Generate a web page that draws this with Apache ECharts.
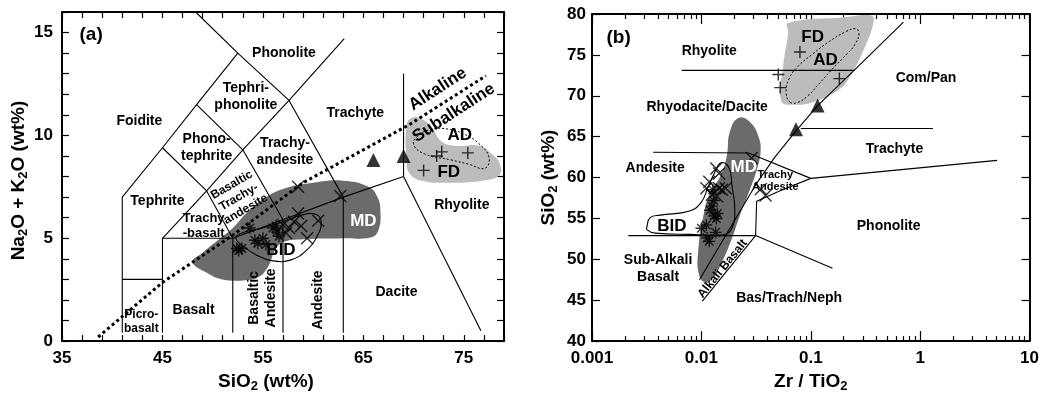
<!DOCTYPE html>
<html><head><meta charset="utf-8">
<script src="https://cdn.jsdelivr.net/npm/echarts@6/dist/echarts.min.js"></script>
<style>html,body{margin:0;padding:0;background:#fff}#c{width:1042px;height:398px}</style>
</head><body><div id="c"></div>
<script>
// ================= Panel (a): TAS diagram =================
const tasBoundaries = [
  [[41,0.4],[41,7],[45,9.4],[48.4,11.5],[52.5,14],[48.3,16]],
  [[41,3],[45,3]],
  [[45,0.4],[45,5],[49.4,7.3],[53,9.3],[57.6,11.7],[63.1,14.7]],
  [[45,9.4],[49.4,7.3],[52,5]],
  [[48.4,11.5],[53,9.3],[57,5.9]],
  [[52.5,14],[57.6,11.7],[63,7]],
  [[45,5],[52,5],[57,5.9],[63,7],[69,8]],
  [[52,0.4],[52,5]],
  [[57,0.4],[57,5.9]],
  [[63,0.4],[63,7]],
  [[69,8],[69,13]],
  [[69,8],[76.7,0.5]]
];
const tasAlkLine = [[38.6,0.2],[45,2.85],[52,5.15],[59,7.7],[69.5,10.5],[77.2,12.9]];
const tasMD = [[48,3.85],[49.5,3.3],[51,3.0],[53,2.95],[54.5,3.1],[55.5,3.6],[56.2,4.4],[57,4.8],[59,4.95],[63,5.0],[65.8,5.05],[66.5,5.4],[66.7,6.3],[66.4,7.0],[65.5,7.5],[63,7.8],[60,7.7],[57,7.4],[55,6.9],[53.5,6.3],[52,5.5],[50.5,4.9],[49,4.3]];
const tasBID = [[52.3,5.05],[53.2,5.3],[55,5.5],[57,5.8],[59,6.15],[60.3,6.15],[60.8,5.8],[60.4,5.1],[59.3,4.4],[57.8,3.95],[56,3.9],[54.3,4.2],[52.8,4.7]];
const tasFD = [[69.3,10.5],[69.8,10.85],[70.8,10.8],[71.8,10.4],[72.8,9.7],[74.1,9.5],[76.5,9.5],[77.8,9.1],[78.6,8.6],[78.5,8.05],[76.8,7.8],[73.5,7.7],[70.8,7.8],[69.6,8.15],[69.3,8.8]];
const tasAD = [[70,9.57],[70.5,10.0],[71.8,10.3],[73.5,10.3],[75.1,10.05],[76.5,9.6],[77.5,8.95],[77.1,8.4],[75.5,8.6],[73.8,8.8],[71.1,9.1]];
const tasStars = [[52.4,4.5],[52.9,4.5],[52.6,4.4],[53.7,5.5],[54.2,4.9],[54.5,4.75],[55.0,5.0],[55.3,4.7],[56.0,5.5],[56.4,5.3],[56.6,5.1],[56.3,5.6]];
const tasCrosses = [[58.5,7.5],[62.7,7.05],[58.5,6.2],[60.5,5.85],[59.4,5.0],[58.1,5.8],[57.6,5.5],[57.3,5.25],[57.0,5.65],[58.8,5.6]];
const tasPlus = [[71.0,8.3],[72.3,9.0],[72.8,9.2],[75.4,9.15]];
const tasTriangles = [[66.0,8.8],[69.0,9.0]];
const tasXTickLabels = [35,45,55,65,75];
const tasYTickLabels = [0,5,10,15];
const tasLabels = [
  {t:'(a)', p:[37.9,14.9], fs:19},
  {t:'Foidite', p:[42.7,10.7]},
  {t:'Phonolite', p:[57.1,14.0]},
  {t:'Tephri-\nphonolite', p:[53.3,11.9]},
  {t:'Phono-\ntephrite', p:[49.4,9.4]},
  {t:'Trachy-\nandesite', p:[57.2,9.2]},
  {t:'Trachyte', p:[64.2,11.1]},
  {t:'Basaltic\nTrachy-\nandesite', p:[52.6,7.0], r:30, fs:12, lh:14},
  {t:'Tephrite', p:[44.5,6.8]},
  {t:'Trachy\n-basalt', p:[49.1,5.6], fs:13, lh:15},
  {t:'Picro-\nbasalt', p:[42.9,0.95], fs:12, lh:14},
  {t:'Basalt', p:[48.1,1.5]},
  {t:'Basaltic\nAndesite', p:[55.0,2.1], r:90},
  {t:'Andesite', p:[60.5,2.0], r:90},
  {t:'Dacite', p:[68.3,2.4]},
  {t:'Rhyolite', p:[74.8,6.6]},
  {t:'Alkaline', p:[72.4,12.25], r:33, fs:17},
  {t:'Subalkaline', p:[74.0,11.1], r:33, fs:17},
  {t:'MD', p:[65.0,5.8], fs:17, c:'#fff'},
  {t:'BID', p:[56.8,4.4], fs:17},
  {t:'AD', p:[74.6,10.0], fs:17},
  {t:'FD', p:[73.5,8.2], fs:17}
];

// ================= Panel (b): Zr/TiO2 vs SiO2 =================
const wfBoundaries = [
  [[0.0066,73.1],[0.25,73.1]],
  [[0.703,79.0],[0.249,73.1],[0.1156,68.8],[0.0733,65.7],[0.0464,62.4],[0.0313,59.1],[0.0198,54.6],[0.0096,47.5]],
  [[0.00362,63.1],[0.027,63.0],[0.1,59.9]],
  [[0.081,66.0],[1.31,66.0]],
  [[0.1,59.9],[5.05,62.1]],
  [[0.00215,52.9],[0.0313,52.9],[0.158,48.9]],
  [[0.0102,44.9],[0.0313,52.9]],
  [[0.1,59.9],[0.0506,58.3],[0.032,57.1],[0.0313,52.9]]
];
const wfMD = [[0.022,67.3],[0.0282,66.7],[0.0333,65.0],[0.0348,63.25],[0.032,60.9],[0.027,58.1],[0.0224,55.3],[0.0186,52.2],[0.0151,49.4],[0.0126,47.6],[0.0106,47.2],[0.0094,48.4],[0.0094,51.4],[0.0102,54.6],[0.0118,57.9],[0.0151,60.3],[0.0171,62.7],[0.0182,65.6]];
const wfBID = [[0.00319,54.1],[0.0034,55.1],[0.0042,55.4],[0.0078,55.9],[0.01,57.0],[0.01156,58.9],[0.0131,60.5],[0.0151,61.8],[0.0179,61.2],[0.019,59.1],[0.0202,56.1],[0.019,53.8],[0.0161,53.0],[0.0078,53.05],[0.0038,53.2],[0.00319,53.6]];
const wfFD = [[0.0621,78.9],[0.2,79.6],[0.348,79.86],[0.378,79.3],[0.306,75.7],[0.215,71.8],[0.175,70.6],[0.1156,69.4],[0.0718,68.9],[0.0537,69.4],[0.056,73.7],[0.0621,77.7]];
const wfAD = [[0.0647,69.2],[0.0596,70.4],[0.0634,72.1],[0.0764,73.6],[0.104,75.1],[0.148,76.65],[0.2065,77.8],[0.254,78.2],[0.276,77.7],[0.254,76.3],[0.2065,74.9],[0.158,73.3],[0.1205,71.55],[0.094,70.0],[0.0764,69.2]];
const wfStars = [[0.0100,53.8],[0.0111,54.2],[0.0118,52.2],[0.0113,52.6],[0.0125,56.5],[0.0131,55.3],[0.0137,55.0],[0.0135,53.3],[0.0120,56.0],[0.0127,58.5],[0.0130,57.2],[0.0140,55.6]];
const wfCrosses = [[0.0137,61.1],[0.0118,59.5],[0.0145,58.7],[0.0154,58.5],[0.0167,58.7],[0.0111,58.7],[0.0125,57.9],[0.0139,57.7],[0.0288,62.4],[0.0145,60.5],[0.0386,57.8],[0.0350,58.6]];
const wfPlus = [[0.0796,75.35],[0.1825,72.1],[0.0505,72.6],[0.0526,71.0]];
const wfTriangles = [[0.1156,68.8],[0.0733,65.9]];
const wfDecades = [0.001,0.01,0.1,1,10];
const wfLabels = [
  {t:'(b)', p:[0.00175,77.1], fs:19},
  {t:'Rhyolite', p:[0.0118,75.5]},
  {t:'Rhyodacite/Dacite', p:[0.0113,68.6]},
  {t:'Andesite', p:[0.00378,61.1]},
  {t:'Com/Pan', p:[1.13,72.1]},
  {t:'Trachyte', p:[0.583,63.5]},
  {t:'Trachy\nAndesite', p:[0.0474,59.6], fs:11, lh:12},
  {t:'Phonolite', p:[0.515,54.1]},
  {t:'Bas/Trach/Neph', p:[0.0634,45.2]},
  {t:'Sub-Alkali\nBasalt', p:[0.00402,48.9], lh:17},
  {t:'Alkali Basalt', p:[0.0156,48.85], r:51, fs:12},
  {t:'BID', p:[0.00537,54.0], fs:17},
  {t:'MD', p:[0.0244,61.2], fs:17, c:'#fff'},
  {t:'FD', p:[0.104,77.1], fs:17},
  {t:'AD', p:[0.1365,74.3], fs:17}
];

// ================= helpers =================
const FF = '"Liberation Sans", Arial, Helvetica, sans-serif';
const minorLog = [];
for (let i = 0; i < wfDecades.length - 1; i++) for (let k = 2; k <= 9; k++) minorLog.push(+(wfDecades[i]*k).toPrecision(3));

function lineSeries(pts, xi, yi, style, z) {
  return {type:'line', xAxisIndex:xi, yAxisIndex:yi, data:pts, showSymbol:false, symbol:'none',
    silent:true, animation:false, z:z||3, lineStyle:Object.assign({color:'#000', width:1.1}, style||{})};
}
function shapeSeries(pts, xi, yi, style, smooth, z) {
  return {type:'custom', xAxisIndex:xi, yAxisIndex:yi, data:pts, silent:true, animation:false, z:z||1,
    clip:true, encode:{x:0, y:1},
    renderItem:function(params, api){
      if (params.dataIndex !== 0) return null;
      return {type:'polygon', shape:{points:pts.map(p=>api.coord(p)), smooth:smooth}, style:style};
    }};
}
function labelSeries(labels, xi, yi) {
  return {type:'custom', xAxisIndex:xi, yAxisIndex:yi, data:labels.map(l=>l.p), silent:true, animation:false, z:10,
    encode:{x:0, y:1},
    renderItem:function(params, api){
      const l = labels[params.dataIndex];
      const c = api.coord(l.p);
      const fs = l.fs || 14;
      return {type:'text', x:c[0], y:c[1], rotation:(l.r||0)*Math.PI/180,
        style:{text:l.t, fontSize:fs, fontWeight:'bold', fontFamily:FF, fill:l.c||'#000',
          align:'center', verticalAlign:'middle', lineHeight:l.lh||Math.round(fs*1.2)}};
    }};
}
const starPath = 'path://M0,-10L0,10M-10,0L10,0M-7.07,-7.07L7.07,7.07M-7.07,7.07L7.07,-7.07';
const crossPath = 'path://M-10,-10L10,10M-10,10L10,-10';
const plusPath = 'path://M0,-10L0,10M-10,0L10,0';
function markSeries(pts, xi, yi, symbol, size, filled) {
  return {type:'scatter', xAxisIndex:xi, yAxisIndex:yi, data:pts, symbol:symbol, symbolSize:size,
    silent:true, animation:false, z:6,
    itemStyle: filled ? {color:'#000'} : {color:'none', borderColor:'#000', borderWidth:1.4}};
}

const axisLineS = {show:true, onZero:false, lineStyle:{color:'#000', width:2}};
const tickS = (len) => ({show:true, inside:true, length:len, lineStyle:{color:'#000', width:1.2}});
const tickLabelS = {color:'#000', fontSize:17, fontWeight:'bold', fontFamily:FF};
const nameS = {color:'#000', fontSize:19, fontWeight:'bold', fontFamily:FF,
  rich:{a:{fontSize:19, fontWeight:'bold', fontFamily:FF, color:'#000'},
        s:{fontSize:13, fontWeight:'bold', fontFamily:FF, color:'#000', padding:[10,0,0,0]}}};

const option = {
  backgroundColor:'#fff',
  animation:false,
  grid:[
    {left:62, right:538, top:12, bottom:46},
    {left:592, right:7, top:14, bottom:46}
  ],
  xAxis:[
    {gridIndex:0, type:'value', min:35, max:79, interval:2, position:'bottom',
      axisLine:axisLineS, axisTick:tickS(6), splitLine:{show:false},
      axisLabel:Object.assign({margin:9, formatter:v=>tasXTickLabels.includes(v)?String(v):''}, tickLabelS),
      name:'{a|SiO}{s|2}{a| (wt%)}', nameLocation:'middle', nameGap:26,
      nameTextStyle:Object.assign({padding:[0,34,0,0]}, nameS)},
    {gridIndex:0, type:'value', min:35, max:79, interval:2, position:'top',
      axisLine:axisLineS, axisTick:tickS(6), splitLine:{show:false}, axisLabel:{show:false}},
    {gridIndex:1, type:'log', logBase:10, min:0.001, max:10, position:'bottom',
      axisLine:axisLineS, axisTick:tickS(10), splitLine:{show:false},
      axisLabel:Object.assign({margin:9, formatter:v=>String(+(+v).toPrecision(1))}, tickLabelS),
      name:'{a|Zr / TiO}{s|2}', nameLocation:'middle', nameGap:24, nameTextStyle:nameS},
    {gridIndex:1, type:'log', logBase:10, min:0.001, max:10, position:'top',
      axisLine:axisLineS, axisTick:tickS(10), splitLine:{show:false}, axisLabel:{show:false}},
    {gridIndex:1, type:'log', logBase:10, min:0.001, max:10, position:'bottom',
      axisLine:{show:false}, axisTick:Object.assign({customValues:minorLog}, tickS(5)), splitLine:{show:false}, axisLabel:{show:false}},
    {gridIndex:1, type:'log', logBase:10, min:0.001, max:10, position:'top',
      axisLine:{show:false}, axisTick:Object.assign({customValues:minorLog}, tickS(5)), splitLine:{show:false}, axisLabel:{show:false}}
  ],
  yAxis:[
    {gridIndex:0, type:'value', min:0, max:16, interval:1, position:'left',
      axisLine:axisLineS, axisTick:tickS(7), splitLine:{show:false},
      axisLabel:Object.assign({margin:9, formatter:v=>tasYTickLabels.includes(v)?String(v):''}, tickLabelS),
      name:'{a|Na}{s|2}{a|O + K}{s|2}{a|O (wt%)}', nameLocation:'middle', nameRotate:90, nameGap:25,
      nameTextStyle:Object.assign({padding:[0,8,0,0]}, nameS)},
    {gridIndex:0, type:'value', min:0, max:16, interval:1, position:'right',
      axisLine:axisLineS, axisTick:tickS(7), splitLine:{show:false}, axisLabel:{show:false}},
    {gridIndex:1, type:'value', min:40, max:80, interval:5, position:'left',
      axisLine:axisLineS, axisTick:tickS(8), splitLine:{show:false},
      axisLabel:Object.assign({margin:6}, tickLabelS),
      name:'{a|SiO}{s|2}{a| (wt%)}', nameLocation:'middle', nameRotate:90, nameGap:32,
      nameTextStyle:nameS},
    {gridIndex:1, type:'value', min:40, max:80, interval:5, position:'right',
      axisLine:axisLineS, axisTick:tickS(8), splitLine:{show:false}, axisLabel:{show:false}}
  ],
  series:[]
};

const S = option.series;
// panel a
S.push(shapeSeries(tasMD, 0, 0, {fill:'#6b6b6b'}, 0.45, 1));
S.push(shapeSeries(tasFD, 0, 0, {fill:'#bcbcbc'}, 0.45, 1));
tasBoundaries.forEach(b => S.push(lineSeries(b, 0, 0)));
S.push(lineSeries(tasAlkLine, 0, 0, {width:3, type:[3,3]}, 4));
S.push(shapeSeries(tasBID, 0, 0, {fill:'none', stroke:'#000', lineWidth:1.1}, 0.45, 4));
S.push(shapeSeries(tasAD, 0, 0, {fill:'none', stroke:'#000', lineWidth:1, lineDash:[2,2]}, 0.45, 4));
S.push(markSeries(tasStars, 0, 0, starPath, 12, false));
S.push(markSeries(tasCrosses, 0, 0, crossPath, 12, false));
S.push(markSeries(tasPlus, 0, 0, plusPath, 12, false));
S.push(markSeries(tasTriangles, 0, 0, 'triangle', 14, true));
S.push(labelSeries(tasLabels, 0, 0));
// panel b
S.push(shapeSeries(wfMD, 2, 2, {fill:'#6b6b6b'}, 0.45, 1));
S.push(shapeSeries(wfFD, 2, 2, {fill:'#bcbcbc'}, 0.45, 1));
wfBoundaries.forEach(b => S.push(lineSeries(b, 2, 2)));
S.push(shapeSeries(wfBID, 2, 2, {fill:'none', stroke:'#000', lineWidth:1.1}, 0.45, 4));
S.push(shapeSeries(wfAD, 2, 2, {fill:'none', stroke:'#000', lineWidth:1, lineDash:[2,2]}, 0.45, 4));
S.push(markSeries(wfStars, 2, 2, starPath, 12, false));
S.push(markSeries(wfCrosses, 2, 2, crossPath, 12, false));
S.push(markSeries(wfPlus, 2, 2, plusPath, 12, false));
S.push(markSeries(wfTriangles, 2, 2, 'triangle', 14, true));
S.push(labelSeries(wfLabels, 2, 2));

const chart = echarts.init(document.getElementById('c'), null, {renderer:'canvas'});
chart.setOption(option);
</script>
</body></html>
